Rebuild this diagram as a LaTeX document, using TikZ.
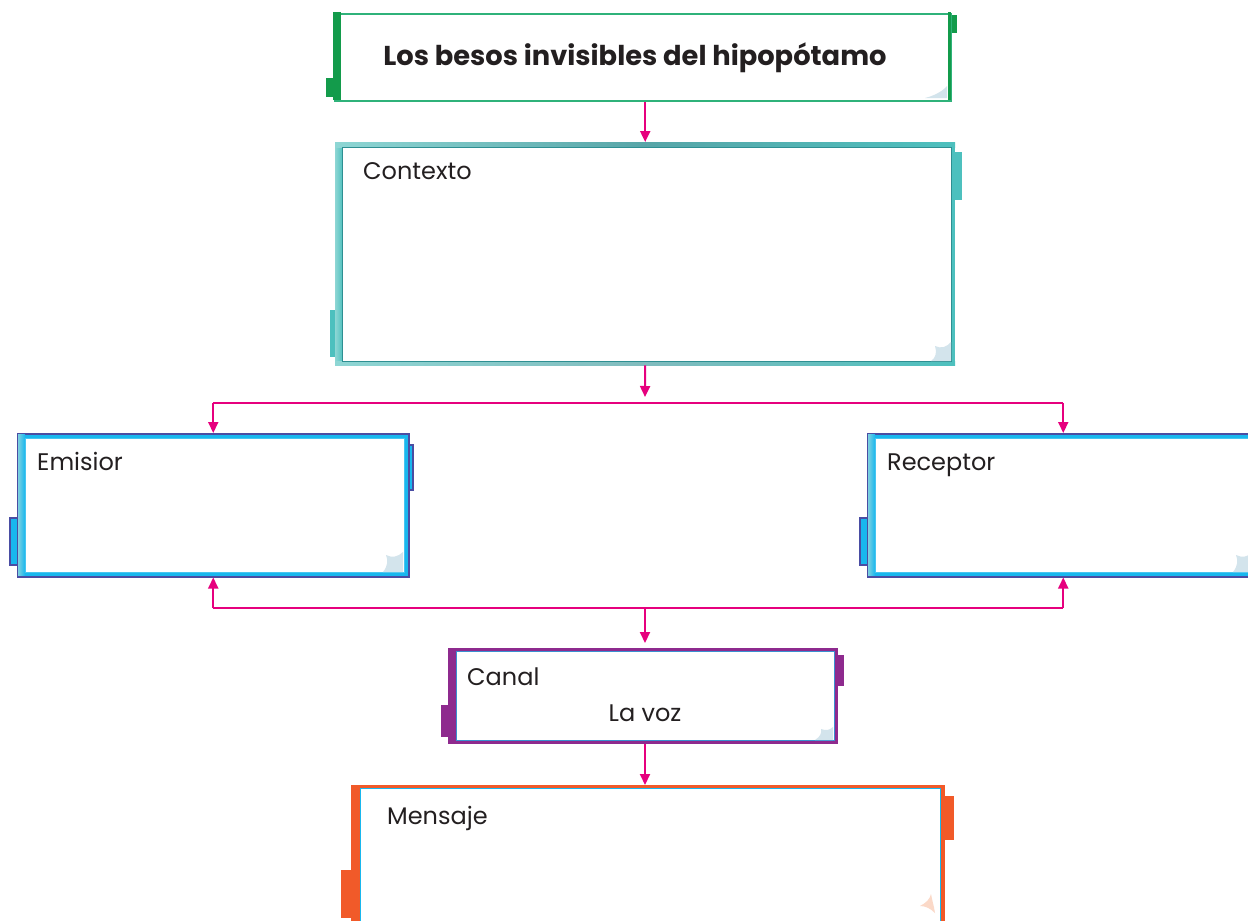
\documentclass[tikz,border=0pt]{standalone}
\usepackage{fontspec}
\setmainfont{Poppins}
\usetikzlibrary{arrows.meta,calc}
\definecolor{pinkc}{HTML}{E6007E}
\definecolor{greenA}{HTML}{139B4B}
\definecolor{greenB}{HTML}{2FB27A}
\definecolor{tealA}{HTML}{4DC0BE}
\definecolor{tealB}{HTML}{2E8F92}
\definecolor{tealL}{HTML}{8ED6D4}
\definecolor{indigoc}{HTML}{4A4DA3}
\definecolor{cyanA}{HTML}{18B7EE}
\definecolor{cyanL}{HTML}{7DD0E0}
\definecolor{purplec}{HTML}{8E2A8E}
\definecolor{bluel}{HTML}{3A8FD0}
\definecolor{orangec}{HTML}{F15A29}
\definecolor{txt}{HTML}{231F20}
\definecolor{curlc}{HTML}{D3E4EC}
\definecolor{curlo}{HTML}{FBD9C8}
\tikzset{
  conn/.style={draw=pinkc, line width=2pt},
  arr/.style={conn, -{Triangle[length=11pt,width=10pt]}},
  boxlabel/.style={anchor=base west, inner sep=0pt, text=txt, font=\fontsize{24}{28}\selectfont},
  framebox/.style={rectangle, inner sep=0pt, anchor=north west},
}
\begin{document}
\begin{tikzpicture}[x=1pt,y=-1pt]
\useasboundingbox (0,0) rectangle (1248,921);
\fill[white] (0,0) rectangle (1248,921);

% ---------- Title box ----------
\fill[greenA] (326,78) rectangle (334,97);
\fill[greenA] (948,15) rectangle (957,33);
\node[framebox, draw=greenB, line width=2pt, fill=white, minimum width=616pt, minimum height=87pt] (title) at (334,13) {};
\fill[greenA] (333,12) rectangle (341,100);
\fill[greenA] (948,12) rectangle (951,100);
\fill[curlc] (947,98) -- (925,98) .. controls (933,96) and (942,92) .. (947,86) -- cycle;
\node[anchor=base, inner sep=0pt, text=txt, font=\bfseries\fontsize{27.3}{30}\selectfont] (titletext) at (635,65) {Los besos invisibles del hipopótamo};

% ---------- Contexto box ----------
\fill[tealA] (330,310) rectangle (337,357);
\fill[tealA] (953,152) rectangle (962,200);
\node[framebox, fill=tealA, minimum width=620pt, minimum height=223pt] (ctx) at (335,142) {};
\shade[left color=tealL, right color=tealA] (335,142) rectangle (343,365);
\shade[left color=tealL, right color=tealB!80] (335,142) rectangle (645,147);
\shade[left color=tealB!80, right color=tealA] (645,142) rectangle (955,147);
\shade[left color=tealL, right color=tealB!60] (335,361) rectangle (645,365);
\shade[left color=tealB!60, right color=tealA] (645,361) rectangle (955,365);
\node[framebox, draw=tealB, line width=0.8pt, fill=white, minimum width=609pt, minimum height=214pt] (ctxin) at (342,147) {};
\fill[curlc] (951,361) -- (931,361) .. controls (936,358) and (937,352) .. (935,346) .. controls (941,349) and (947,347) .. (951,342) -- cycle;
\node[boxlabel] (ctxlabel) at (363,179) {Contexto};

% ---------- Emisior box ----------
\filldraw[fill=cyanA, draw=indigoc, line width=1.5pt] (10,518) rectangle (18,565);
\filldraw[fill=cyanA, draw=indigoc, line width=1.5pt] (406,445) rectangle (413,490);
\node[framebox, draw=indigoc, line width=1.5pt, fill=cyanA, minimum width=391pt, minimum height=143pt] (emi) at (17,433) {};
\shade[left color=cyanL, right color=cyanA] (18,434) rectangle (25,575);
\node[framebox, draw=cyanA!80!white, line width=0.8pt, fill=white, minimum width=379pt, minimum height=134pt] (emiin) at (25,438) {};
\fill[curlc] (403,572) -- (383,572) .. controls (388,566) and (388,560) .. (386,555) .. controls (392,558) and (398,557) .. (403,552) -- cycle;
\node[boxlabel] (emilabel) at (37,470) {Emisior};

% ---------- Receptor box ----------
\filldraw[fill=cyanA, draw=indigoc, line width=1.5pt] (860,518) rectangle (868,565);
\node[framebox, draw=indigoc, line width=1.5pt, fill=cyanA, minimum width=391pt, minimum height=143pt] (rec) at (867,433) {};
\shade[left color=cyanL, right color=cyanA] (868,434) rectangle (875,575);
\node[framebox, draw=cyanA!80!white, line width=0.8pt, fill=white, minimum width=379pt, minimum height=134pt] (recin) at (875,438) {};
\fill[curlc] (1253,572) -- (1233,572) .. controls (1238,566) and (1238,560) .. (1236,555) .. controls (1242,558) and (1248,557) .. (1253,552) -- cycle;
\node[boxlabel] (reclabel) at (887,470) {Receptor};

% ---------- Canal box ----------
\fill[purplec] (441,705) rectangle (449,737);
\fill[purplec] (836,655) rectangle (844,686);
\node[framebox, fill=purplec, minimum width=390pt, minimum height=96pt] (can) at (448,648) {};
\node[framebox, draw=bluel, line width=0.8pt, fill=white, minimum width=378pt, minimum height=89pt] (canin) at (456,651) {};
\fill[curlc] (833,740) -- (815,740) .. controls (820,737) and (822,733) .. (821,729) .. controls (826,731) and (830,730) .. (833,727) -- cycle;
\node[boxlabel] (canlabel) at (467,685) {Canal};
\node[anchor=base, inner sep=0pt, text=txt, font=\fontsize{24}{28}\selectfont] (canval) at (645,721) {La voz};

% ---------- Mensaje box ----------
\fill[orangec] (341,870) rectangle (352,918);
\fill[orangec] (943,796) rectangle (954,840);
\node[framebox, fill=orangec, minimum width=594pt, minimum height=150pt] (msg) at (351,785) {};
\node[framebox, draw=cyanA, line width=0.8pt, fill=white, minimum width=580pt, minimum height=150pt] (msgin) at (360,788) {};
\fill[curlo] (935,913) .. controls (930,908) and (925,906) .. (920,906) .. controls (926,903) and (930,899) .. (931,894) .. controls (932,900) and (934,906) .. (935,913) -- cycle;
\node[boxlabel] (msglabel) at (387,824) {Mensaje};

% ---------- Connectors ----------
\coordinate (j1) at (645,403);
\coordinate (j2) at (645,608);
\draw[arr] (ctx.north |- title.south) -- (ctx.north);
\draw[arr] (ctx.south) -- ($(j1)+(0,-6)$);
\draw[conn] (emi.north |- j1) -- (rec.north |- j1);
\draw[arr] (emi.north |- j1) -- (emi.north);
\draw[arr] (rec.north |- j1) -- (rec.north);
\draw[conn] (emi.south |- j2) -- (rec.south |- j2);
\draw[arr] (emi.south |- j2) -- (emi.south);
\draw[arr] (rec.south |- j2) -- (rec.south);
\draw[arr] (j2) -- ($(j2 |- can.north)+(0,-5)$);
\draw[arr] (j2 |- can.south) -- (j2 |- msg.north);
\end{tikzpicture}
\end{document}
